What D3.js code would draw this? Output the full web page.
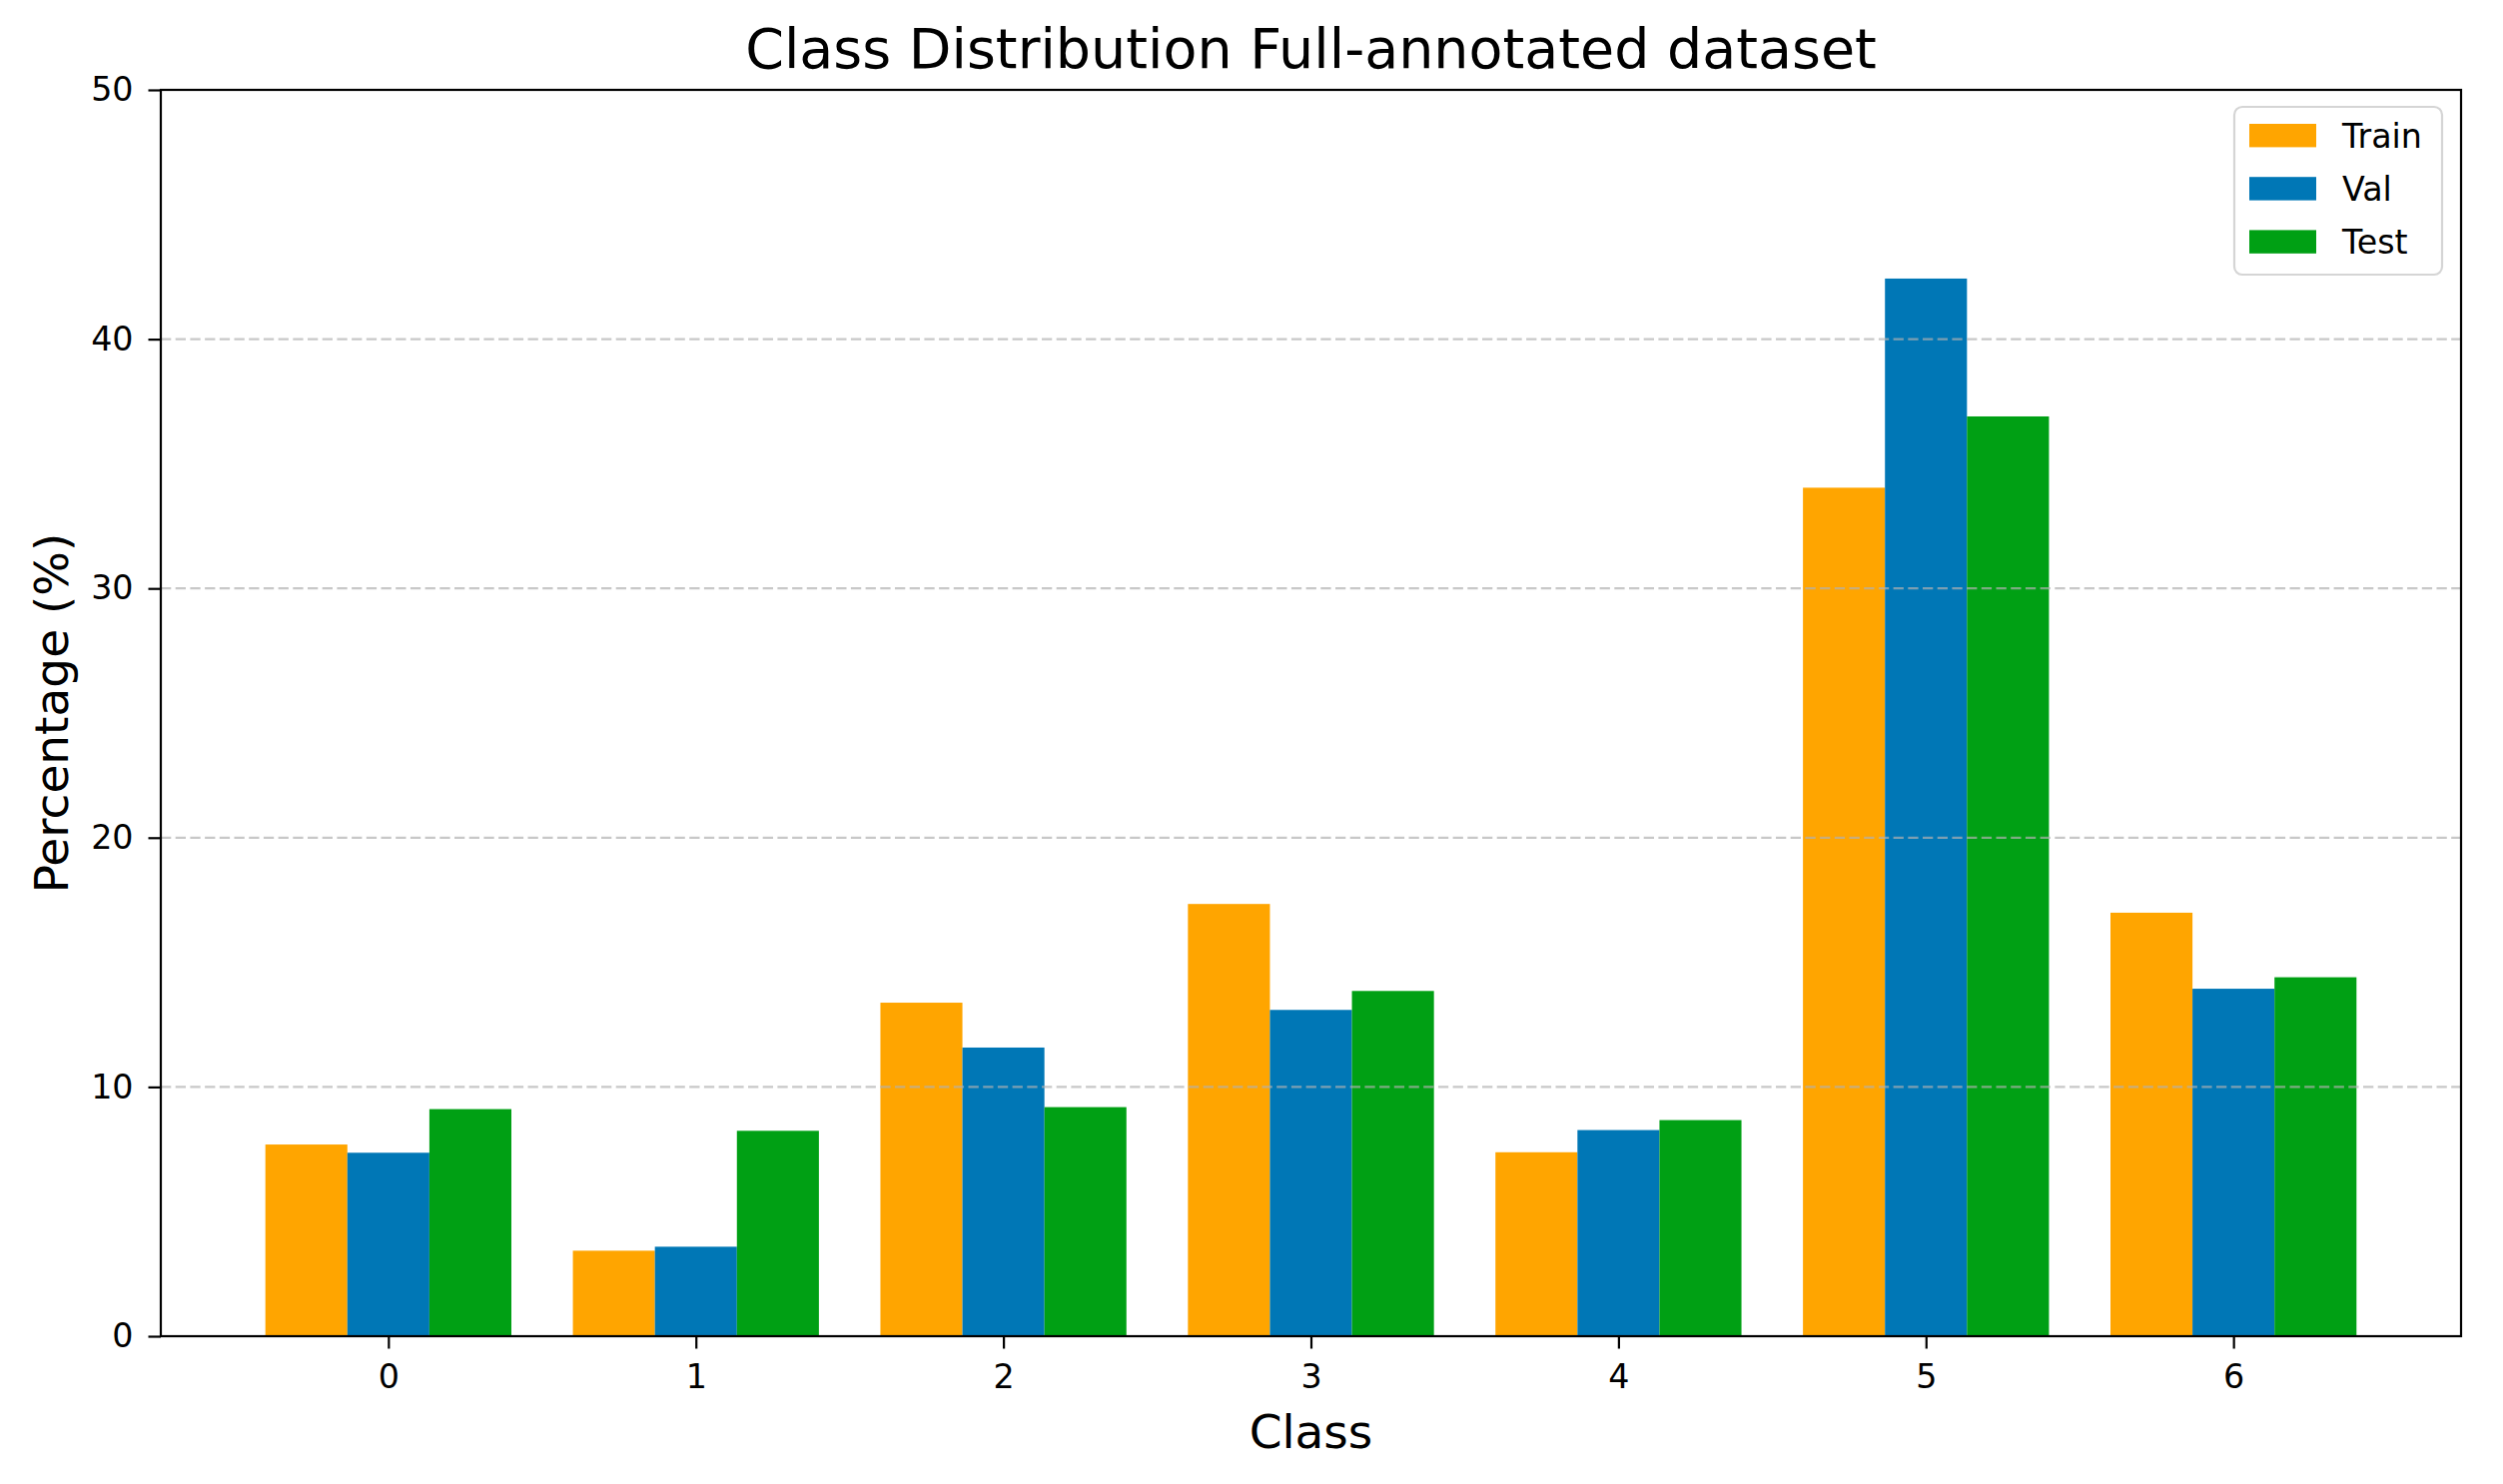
<!DOCTYPE html>
<html>
<head>
<meta charset="utf-8">
<script src="https://cdn.jsdelivr.net/npm/d3@7"></script>
<style>
  body { margin: 0; background: #fff; }
  text { font-family: "DejaVu Sans", sans-serif; }
</style>
</head>
<body>
<svg id="chart" width="2506" height="1486"></svg>
<script>
// data
var classes = [0, 1, 2, 3, 4, 5, 6];
var trainPct = [7.69, 3.43, 13.38, 17.34, 7.38, 34.04, 16.99];
var valPct   = [7.36, 3.59, 11.58, 13.09, 8.27, 42.43, 13.94];
var testPct  = [9.11, 8.24, 9.19, 13.85, 8.67, 36.90, 14.40];
var seriesNames = ["Train", "Val", "Test"];
var yTicks = [0, 10, 20, 30, 40, 50];
var gridTicks = [10, 20, 30, 40];

var colors = ["#ffa500", "#0077b6", "#00a014"];
var series = [trainPct, valPct, testPct];

var svg = d3.select("#chart");
// note: "top" is taken by window.top, so use plot* names
var plotLeft = 161, plotRight = 2464, plotTop = 90, plotBottom = 1338;
var barW = 0.8 / 3;

var x = d3.scaleLinear().domain([-0.74, 6.74]).range([plotLeft, plotRight]);
var y = d3.scaleLinear().domain([0, 50]).range([plotBottom, plotTop]);

// bars
series.forEach(function(vals, s){
    var off = (s - 1) * barW;
    svg.append("g").selectAll("rect")
        .data(vals)
        .enter().append("rect")
        .attr("x", function(d, i){ return x(classes[i] + off - barW / 2); })
        .attr("width", function(){ return x(barW) - x(0); })
        .attr("y", function(d){ return y(d); })
        .attr("height", function(d){ return y(0) - y(d); })
        .attr("fill", colors[s]);
});

// grid (drawn over bars like matplotlib)
svg.append("g").selectAll("line")
    .data(gridTicks)
    .enter().append("line")
    .attr("x1", plotLeft).attr("x2", plotRight)
    .attr("y1", function(d){ return y(d); })
    .attr("y2", function(d){ return y(d); })
    .attr("stroke", "#b0b0b0")
    .attr("stroke-opacity", 0.7)
    .attr("stroke-width", 2.2)
    .attr("stroke-dasharray", "10.3,4.4");

// axes
var xAxis = d3.axisBottom(x).tickValues(classes).tickFormat(d3.format("d"))
    .tickSize(12.5).tickPadding(16);
var yAxis = d3.axisLeft(y).tickValues(yTicks).tickFormat(d3.format("d"))
    .tickSize(12.5).tickPadding(15);

var gx = svg.append("g").attr("transform", "translate(0," + plotBottom + ")").call(xAxis);
var gy = svg.append("g").attr("transform", "translate(" + plotLeft + ",0)").call(yAxis);
[gx, gy].forEach(function(g){
    g.select(".domain").remove();
    g.selectAll(".tick line").attr("stroke", "#000").attr("stroke-width", 2.2);
    g.selectAll(".tick text").attr("fill", "#000")
        .style("font-family", "DejaVu Sans").style("font-size", "33.3px");
});

// spines
svg.append("rect")
    .attr("x", plotLeft).attr("y", plotTop)
    .attr("width", plotRight - plotLeft).attr("height", plotBottom - plotTop)
    .attr("fill", "none").attr("stroke", "#000").attr("stroke-width", 2.2);

// titles
svg.append("text")
    .attr("x", (plotLeft + plotRight) / 2).attr("y", 68)
    .attr("text-anchor", "middle")
    .style("font-size", "55.5px")
    .text("Class Distribution Full-annotated dataset");

svg.append("text")
    .attr("x", (plotLeft + plotRight) / 2).attr("y", 1450)
    .attr("text-anchor", "middle")
    .style("font-size", "47px")
    .text("Class");

svg.append("text")
    .attr("transform", "translate(68," + (plotTop + plotBottom) / 2 + ") rotate(-90)")
    .attr("text-anchor", "middle")
    .style("font-size", "47px")
    .text("Percentage (%)");

// legend
var lg = svg.append("g");
lg.append("rect")
    .attr("x", 2237).attr("y", 107)
    .attr("width", 208).attr("height", 168)
    .attr("rx", 8).attr("ry", 8)
    .attr("fill", "#fff").attr("fill-opacity", 0.8)
    .attr("stroke", "#d5d5d5").attr("stroke-width", 2.2);

seriesNames.forEach(function(name, i){
    var cy = 135.7 + i * 53.2;
    lg.append("rect")
        .attr("x", 2252).attr("y", cy - 11.7)
        .attr("width", 67).attr("height", 23.4)
        .attr("fill", colors[i]);
    lg.append("text")
        .attr("x", 2345).attr("y", cy + 12)
        .style("font-size", "33.3px")
        .text(name);
});
</script>
</body>
</html>
